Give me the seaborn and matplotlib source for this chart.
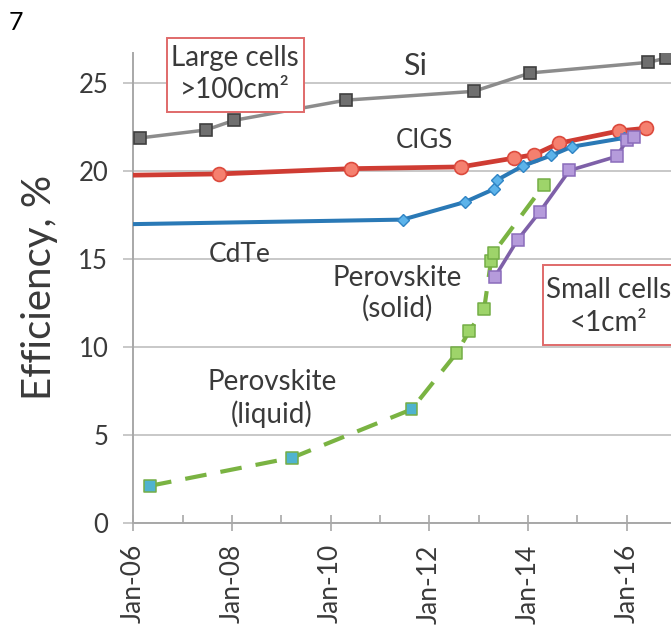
import matplotlib
matplotlib.use("Agg")
import matplotlib.pyplot as plt
from matplotlib.patches import Rectangle
import pandas as pd
import seaborn as sns

# Record efficiencies (%) against date (decimal year)
si_year = [2006.14, 2007.47, 2008.04, 2010.31, 2012.90, 2014.05, 2016.44, 2016.80]
si_eff = [21.9, 22.35, 22.9, 24.05, 24.55, 25.6, 26.2, 26.45]

cigs_year = [2004.0, 2007.74, 2010.41, 2012.64, 2013.71, 2014.13, 2014.63, 2015.85, 2016.39]
cigs_eff = [19.7, 19.85, 20.15, 20.25, 20.75, 20.95, 21.6, 22.3, 22.45]

cdte_year = [2004.0, 2011.46, 2012.72, 2013.32, 2013.37, 2013.89, 2014.47, 2014.89, 2015.95]
cdte_eff = [16.9, 17.25, 18.25, 19.0, 19.5, 20.3, 20.9, 21.4, 21.9]

liq_year = [2006.34, 2009.22, 2011.64, 2012.55, 2012.81, 2013.11, 2013.25, 2013.30, 2014.32]
liq_eff = [2.1, 3.7, 6.45, 9.65, 10.9, 12.15, 14.9, 15.35, 19.2]
liq_stage = ["early", "early", "early", "late", "late", "late", "late", "late", "late"]

sol_year = [2013.33, 2013.79, 2014.24, 2014.84, 2015.80, 2016.01, 2016.15]
sol_eff = [14.0, 16.1, 17.7, 20.05, 20.85, 21.8, 21.95]

tick_years = [2006, 2008, 2010, 2012, 2014, 2016]
tick_labels = ["Jan-06", "Jan-08", "Jan-10", "Jan-12", "Jan-14", "Jan-16"]
minor_years = [2007, 2009, 2011, 2013, 2015]
y_ticks = [0, 5, 10, 15, 20, 25]

si = pd.DataFrame({"date": si_year, "eff": si_eff})
cigs = pd.DataFrame({"date": cigs_year, "eff": cigs_eff})
cdte = pd.DataFrame({"date": cdte_year, "eff": cdte_eff})
liq = pd.DataFrame({"date": liq_year, "eff": liq_eff, "stage": liq_stage})
sol = pd.DataFrame({"date": sol_year, "eff": sol_eff})

sns.set_theme(style="white")
plt.rcParams["font.family"] = ["Lato", "DejaVu Sans"]

TXT = "#3a3a3a"
GRID = "#c4c4c4"
AXIS = "#a8a8a8"

W, H = 671, 627
fig = plt.figure(figsize=(W / 100, H / 100), dpi=100)
x0, x1, ytop, ybot = 133.3, 671.0, 53.0, 522.7
ax = fig.add_axes([x0 / W, 1 - ybot / H, (x1 - x0) / W, (ybot - ytop) / H])

ax.set_xlim(2006.0, 2006.0 + (x1 - x0) / 49.34)
ax.set_ylim(0, (ybot - ytop) / 17.57)

# Gridlines and axes
ax.set_axisbelow(True)
ax.yaxis.grid(True, color=GRID, linewidth=1.3)
ax.xaxis.grid(False)
for side in ("top", "right"):
    ax.spines[side].set_visible(False)
for side in ("left", "bottom"):
    ax.spines[side].set_color(AXIS)
    ax.spines[side].set_linewidth(1.4)

# Silicon
sns.lineplot(data=si, x="date", y="eff", ax=ax, color="#8c8c8c", linewidth=2.5,
             marker="s", markersize=9, markerfacecolor="#6f6f6f",
             markeredgecolor="#3f3f3f", markeredgewidth=1.2, zorder=3)
# CIGS
sns.lineplot(data=cigs, x="date", y="eff", ax=ax, color="#cf3c33", linewidth=3.4,
             marker="o", markersize=10, markerfacecolor="#f5806f",
             markeredgecolor="#dc4a3d", markeredgewidth=1.2, zorder=4)
# CdTe
sns.lineplot(data=cdte, x="date", y="eff", ax=ax, color="#2a79b6", linewidth=2.9,
             marker="D", markersize=6.2, markerfacecolor="#5cb3ea",
             markeredgecolor="#2f84c4", markeredgewidth=1.0, zorder=5)
# Perovskite (liquid electrolyte), dashed
sns.lineplot(data=liq, x="date", y="eff", ax=ax, color="#7ab342", linewidth=3.0,
             linestyle=(0, (5.2, 3.4)), dash_capstyle="butt", zorder=6)
sns.scatterplot(data=liq, x="date", y="eff", hue="stage", ax=ax,
                palette={"early": "#4fb3cf", "late": "#9ed46a"},
                marker="s", s=72, edgecolor="#74ad46", linewidth=1.1,
                legend=False, zorder=7)
# Perovskite (solid state)
sns.lineplot(data=sol, x="date", y="eff", ax=ax, color="#7e60a8", linewidth=2.6,
             marker="s", markersize=8.6, markerfacecolor="#b59bdb",
             markeredgecolor="#8a6cbb", markeredgewidth=1.1, zorder=8)

# Ticks
ax.set_xticks(tick_years)
ax.set_xticklabels(tick_labels, rotation=90, color=TXT, fontsize=19)
ax.set_xticks(minor_years, minor=True)
ax.tick_params(axis="x", which="major", direction="inout", length=11,
               width=1.2, color=AXIS, pad=10, bottom=True)
ax.tick_params(axis="x", which="minor", direction="in", length=6,
               width=1.2, color=AXIS, bottom=True)
ax.set_yticks(y_ticks)
ax.set_yticklabels([str(v) for v in y_ticks], color=TXT, fontsize=18.5)
ax.tick_params(axis="y", which="major", direction="out", length=7,
               width=1.3, color=GRID, pad=11, left=True)
ax.set_xlabel("")
ax.set_ylabel("Efficiency, %", fontsize=29, color=TXT)
ax.yaxis.label.set_verticalalignment("center")
ax.yaxis.set_label_coords((40 - x0) / (x1 - x0), 0.5)

# Series labels
lab = dict(color=TXT, ha="center", va="center", zorder=10)
ax.text(2011.70, 26.0, "Si", fontsize=22, **lab)
ax.text(2011.90, 21.74, "CIGS", fontsize=18.5, **lab)
ax.text(2008.16, 15.24, "CdTe", fontsize=19, **lab)
ax.text(2011.355, 13.05, "Perovskite\n(solid)", fontsize=20, linespacing=1.2, **lab)
ax.text(2008.805, 7.07, "Perovskite\n(liquid)", fontsize=20, linespacing=1.2, **lab)

# Cell-size boxes
BOX = "#e06a6a"
ax.add_patch(Rectangle((2006.68, 23.39), 2.77, 4.19, facecolor="white",
                       edgecolor=BOX, linewidth=1.4, clip_on=False, zorder=9))
ax.text(2008.06, 25.55, "Large cells\n>100cm\u00b2", fontsize=20,
        linespacing=1.3, clip_on=False, **lab)
ax.add_patch(Rectangle((2014.30, 10.12), 3.2, 4.55, facecolor="white",
                       edgecolor=BOX, linewidth=1.4, clip_on=False, zorder=9))
ax.text(2015.64, 12.3, "Small cells\n<1cm\u00b2", fontsize=20,
        linespacing=1.3, clip_on=False, **lab)

fig.text(16 / W, 1 - 22 / H, "7", fontsize=18, color="black", ha="center", va="center")

fig.savefig("out.png", dpi=100)
